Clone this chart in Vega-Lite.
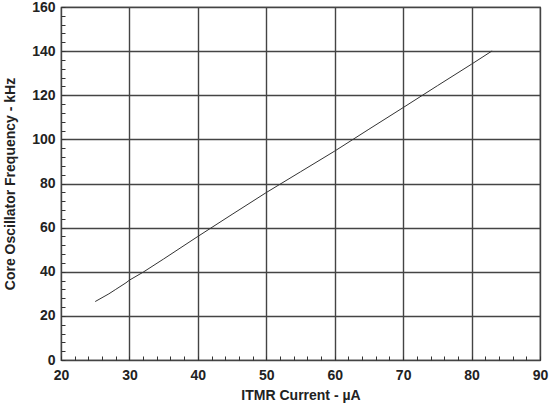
{
  "$schema": "https://vega.github.io/schema/vega-lite/v6.json",
  "width": 479,
  "height": 353,
  "autosize": {"type": "none"},
  "padding": {"left": 61, "top": 7, "right": 10, "bottom": 54},
  "background": "white",
  "data": {
    "values": [
      {"current": 25, "freq": 26.5},
      {"current": 27, "freq": 30},
      {"current": 28, "freq": 32},
      {"current": 29.5, "freq": 35},
      {"current": 30, "freq": 36.2},
      {"current": 32, "freq": 39.8},
      {"current": 35, "freq": 45.8},
      {"current": 40, "freq": 56},
      {"current": 45, "freq": 66},
      {"current": 50, "freq": 75.9},
      {"current": 55, "freq": 85.3},
      {"current": 60, "freq": 94.7},
      {"current": 65, "freq": 104.6},
      {"current": 70, "freq": 114.4},
      {"current": 75, "freq": 124.3},
      {"current": 80, "freq": 134.1},
      {"current": 83, "freq": 140.1}
    ]
  },
  "mark": {"type": "line", "color": "#333333", "strokeWidth": 1},
  "encoding": {
    "x": {
      "field": "current",
      "type": "quantitative",
      "scale": {"domain": [20, 90], "nice": false, "zero": false},
      "axis": {
        "title": "ITMR Current - µA",
        "values": [20,22,24,26,28,30,32,34,36,38,40,42,44,46,48,50,52,54,56,58,60,62,64,66,68,70,72,74,76,78,80,82,84,86,88,90],
        "labelExpr": "datum.value % 10 === 0 ? datum.label : ''",
        "tickSize": -4,
        "labelPadding": 12,
        "gridColor": {"condition": {"test": "datum.value % 10 === 0", "value": "#444444"}, "value": "transparent"},
        "titlePadding": 6
      }
    },
    "y": {
      "field": "freq",
      "type": "quantitative",
      "scale": {"domain": [0, 160], "nice": false},
      "axis": {
        "title": "Core Oscillator Frequency - kHz",
        "values": [0,4,8,12,16,20,24,28,32,36,40,44,48,52,56,60,64,68,72,76,80,84,88,92,96,100,104,108,112,116,120,124,128,132,136,140,144,148,152,156,160],
        "labelExpr": "datum.value % 20 === 0 ? datum.label : ''",
        "tickSize": -4,
        "labelPadding": 10,
        "gridColor": {"condition": {"test": "datum.value % 20 === 0", "value": "#444444"}, "value": "transparent"},
        "titlePadding": 14
      }
    }
  },
  "config": {
    "font": "Liberation Sans",
    "view": {"stroke": "#333333", "strokeWidth": 1.2},
    "axis": {
      "grid": true,
      "gridWidth": 1.4,
      "gridOpacity": 1,
      "domain": false,
      "labelFlush": false,
      "labelOverlap": false,
      "tickColor": "#333333",
      "tickWidth": 1,
      "labelFont": "Liberation Sans",
      "labelFontSize": 14,
      "labelFontWeight": "bold",
      "labelColor": "#222222",
      "titleFont": "Liberation Sans",
      "titleFontSize": 14,
      "titleFontWeight": "bold",
      "titleColor": "#222222"
    }
  }
}
